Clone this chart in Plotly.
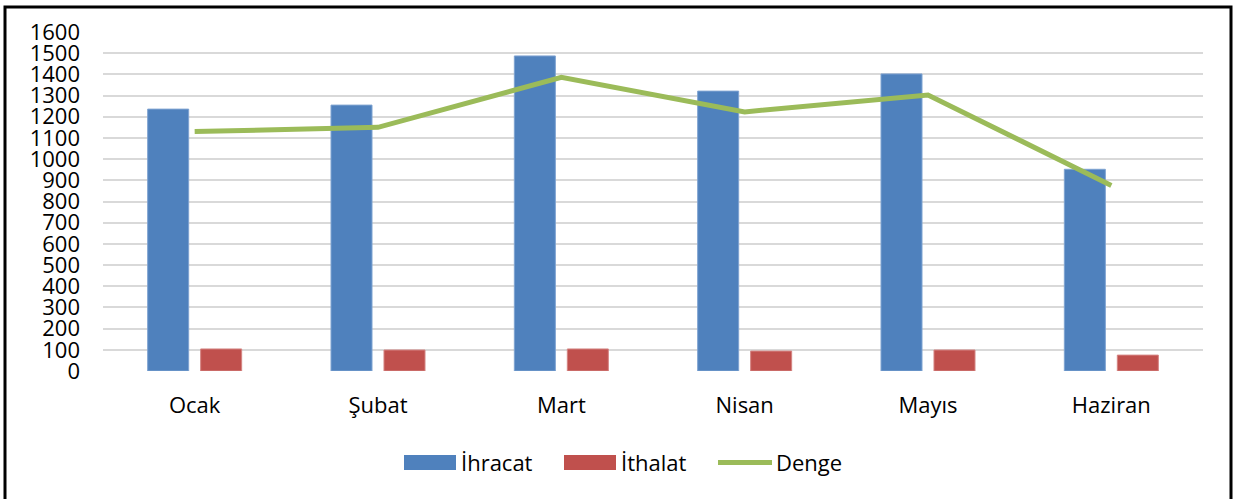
import plotly.graph_objects as go

months = ["Ocak", "Şubat", "Mart", "Nisan", "Mayıs", "Haziran"]
ihracat = [1236, 1255, 1487, 1321, 1402, 952]
ithalat = [104, 99, 104, 94, 99, 75]
denge = [1130, 1150, 1386, 1223, 1303, 876]
y_ticks = list(range(0, 1601, 100))
series_names = ["İhracat", "İthalat", "Denge"]
series_colors = ["#4F81BD", "#C0504D", "#9BBB59"]

FONT = "Open Sans"
FS = 22
W, H = 1234, 499
L, R, T, B = 103, 31, 32, 128
pw, ph = W - L - R, H - T - B


def px(x):
    return (x - L) / pw


def py(y):
    return (H - B - y) / ph


fig = go.Figure()
fig.add_bar(x=months, y=ihracat, name=series_names[0], showlegend=False,
            marker=dict(color=series_colors[0], line=dict(color="#7FA3D1", width=1)))
fig.add_bar(x=months, y=ithalat, name=series_names[1], showlegend=False,
            marker=dict(color=series_colors[1], line=dict(color="#D48482", width=1)))
fig.add_scatter(x=months, y=denge, name=series_names[2], mode="lines", showlegend=False,
                line=dict(color=series_colors[2], width=5))

# outer black frame
fig.add_shape(type="rect", xref="paper", yref="paper",
              x0=px(5), x1=px(1231), y0=py(520), y1=py(7),
              line=dict(color="black", width=3), fillcolor="rgba(0,0,0,0)", layer="above")

# legend (drawn manually to mimic wide swatches)
fig.add_shape(type="rect", xref="paper", yref="paper", x0=px(404), x1=px(456),
              y0=py(470), y1=py(455), line=dict(width=0), fillcolor=series_colors[0])
fig.add_shape(type="rect", xref="paper", yref="paper", x0=px(564), x1=px(616),
              y0=py(470), y1=py(455), line=dict(width=0), fillcolor=series_colors[1])
fig.add_shape(type="line", xref="paper", yref="paper", x0=px(718), x1=px(772),
              y0=py(462.5), y1=py(462.5), line=dict(width=5, color=series_colors[2]))
for name, xs in zip(series_names, [459, 619, 774]):
    fig.add_annotation(text=name, xref="paper", yref="paper", x=px(xs), y=py(462),
                       xanchor="left", yanchor="middle", showarrow=False,
                       font=dict(family=FONT, size=FS, color="black"))

fig.update_layout(
    width=W, height=H,
    margin=dict(l=L, r=R, t=T, b=B),
    paper_bgcolor="white", plot_bgcolor="white",
    font=dict(family=FONT, size=FS, color="black"),
    barmode="group", bargap=0.422, bargroupgap=0.226,
    showlegend=False,
    xaxis=dict(showgrid=False, showline=False, ticks="", tickfont=dict(size=FS),
               ticklabelstandoff=19),
    yaxis=dict(range=[0, 1600], tickvals=y_ticks, showgrid=True, gridcolor="#D9D9D9",
               gridwidth=2, zeroline=False, showline=False, ticks="",
               tickfont=dict(size=FS), ticklabelstandoff=22),
)

fig.write_html("out.html", config={"displayModeBar": False},
               post_script="document.body.style.margin='0';document.body.style.overflow='hidden';")
